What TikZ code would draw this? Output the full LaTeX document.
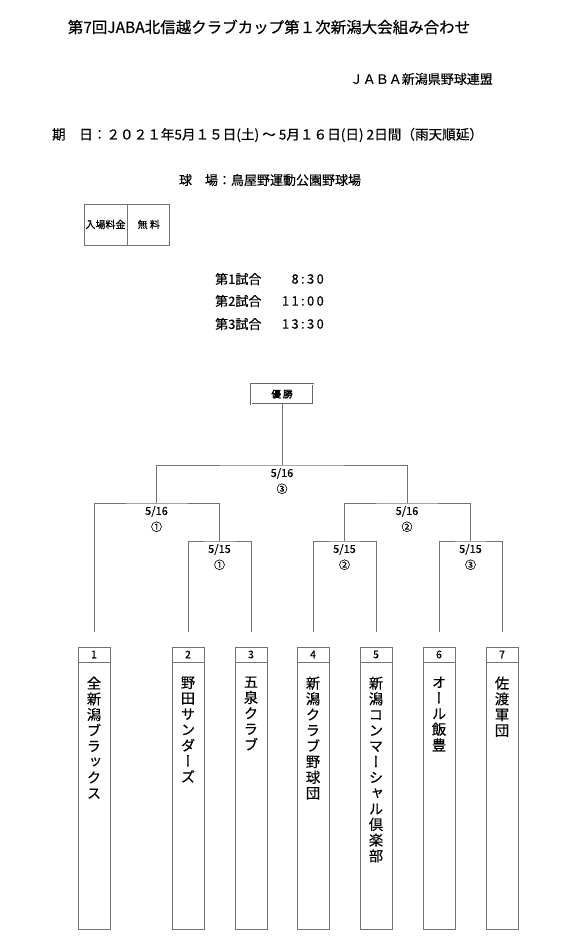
\documentclass[tikz,border=0pt]{standalone}
\usepackage{fontspec}
\newfontfamily\jp[FakeBold=0.35]{Noto Sans CJK JP}
\newfontfamily\jpv[RawFeature=+vert, FakeBold=0.35]{Noto Sans CJK JP}
\newfontfamily\jpb[AutoFakeBold=2.5]{Noto Sans CJK JP}
\usetikzlibrary{positioning}

\begin{document}
\begin{tikzpicture}[x=1pt, y=-1pt, every node/.style={font=\jp, inner sep=0pt}]
    \tikzstyle{bracket} = [draw=black!55, line width=1pt]
    \tikzstyle{num cell} = [draw=black!55, line width=0.8pt, minimum width=32pt, minimum height=15pt, font=\jp\fontsize{10.5}{12}\selectfont]
    \tikzstyle{team box} = [draw=black!55, line width=0.8pt, minimum width=32pt, minimum height=267pt]
    \tikzstyle{team name} = [align=center, anchor=north, font=\jpv\fontsize{14.3}{15.7}\selectfont]
    \tikzstyle{round label} = [align=center, anchor=north, font=\jp\fontsize{11}{16}\selectfont]
    \tikzstyle{fee cell} = [draw=black!55, line width=0.8pt, minimum height=41pt, font=\jp\fontsize{10}{11}\selectfont]
    \useasboundingbox (0,0) rectangle (579,944);

    % heading
    \node (title) at (269,27) {\fontsize{15.5}{18}\selectfont 第7回JABA北信越クラブカップ第１次新潟大会組み合わせ};
    \node[anchor=east] (org) at (493,79) {\fontsize{13}{15}\selectfont ＪＡＢＡ新潟県野球連盟};
    \node (date) at (267.5,135) {\fontsize{13.6}{15}\selectfont 期　日：２０２１年5月１５日(土) ～ 5月１６日(日) 2日間（雨天順延）};
    \node (venue) at (270,180) {\fontsize{13}{15}\selectfont 球　場：鳥屋野運動公園野球場};
    \node[fee cell, minimum width=43pt] (fee) at (105.5,224.5) {入場料金};
    \node[fee cell, minimum width=42pt, right=0pt of fee] (free) {無 料};

    % start times
    \foreach \g/\t/\y in {1/8:30/279, 2/11:00/301, 3/13:30/324} {
        \node[anchor=west, font=\jp\fontsize{13}{15}\selectfont] (game\g) at (215,\y) {第\g 試合};
        \node[anchor=east, font=\jp\fontsize{13}{15}\selectfont\addfontfeature{LetterSpace=18}] (time\g) at (324,\y) {\t};
    }

    \node[draw=black!60, line width=0.9pt, double, double distance=0.8pt, minimum width=62pt, minimum height=20pt,
          font=\jpb\bfseries\fontsize{9.5}{11}\selectfont] (win) at (282,394) {優 勝};

    % teams
    \foreach \i/\x/\name in {1/94/{全\\新\\潟\\ブ\\ラ\\ッ\\ク\\ス},
                             2/188/{野\\田\\サ\\ン\\ダ\\ー\\ズ},
                             3/251/{五\\泉\\ク\\ラ\\ブ},
                             4/313/{新\\潟\\ク\\ラ\\ブ\\野\\球\\団},
                             5/376/{新\\潟\\コ\\ン\\マ\\ー\\シ\\ャ\\ル\\倶\\楽\\部},
                             6/439/{オ\\ー\\ル\\飯\\豊},
                             7/502/{佐\\渡\\軍\\団}} {
        \node[num cell] (n\i) at (\x,654.5) {\i};
        \node[team box, below=0pt of n\i] (t\i) {};
        \node[team name, below=14pt of n\i.south] (name\i) {\name};
    }

    % bracket
    \coordinate (f) at (282,465);
    \coordinate (s1) at (156.5,503);
    \coordinate (s2) at (407,503);
    \coordinate (q1) at (219.5,541);
    \coordinate (q2) at (344.5,541);
    \coordinate (q3) at (470.5,541);

    \draw[bracket, shorten <=15pt, shorten >=15pt] (n2.north) |- (q1) -| (n3.north);
    \draw[bracket, shorten <=15pt, shorten >=15pt] (n4.north) |- (q2) -| (n5.north);
    \draw[bracket, shorten <=15pt, shorten >=15pt] (n6.north) |- (q3) -| (n7.north);
    \draw[bracket, shorten <=15pt] (n1.north) |- (s1) -| (q1);
    \draw[bracket] (q2) |- (s2) -| (q3);
    \draw[bracket] (s1) |- (f) -| (s2);
    \draw[bracket] (f) -- (win);

    \node[round label, below=3pt of f] (lf) {5/16\\③};
    \node[round label, below=3pt of s1] (ls1) {5/16\\①};
    \node[round label, below=3pt of s2] (ls2) {5/16\\②};
    \node[round label, below=3pt of q1] (lq1) {5/15\\①};
    \node[round label, below=3pt of q2] (lq2) {5/15\\②};
    \node[round label, below=3pt of q3] (lq3) {5/15\\③};
\end{tikzpicture}
\end{document}
